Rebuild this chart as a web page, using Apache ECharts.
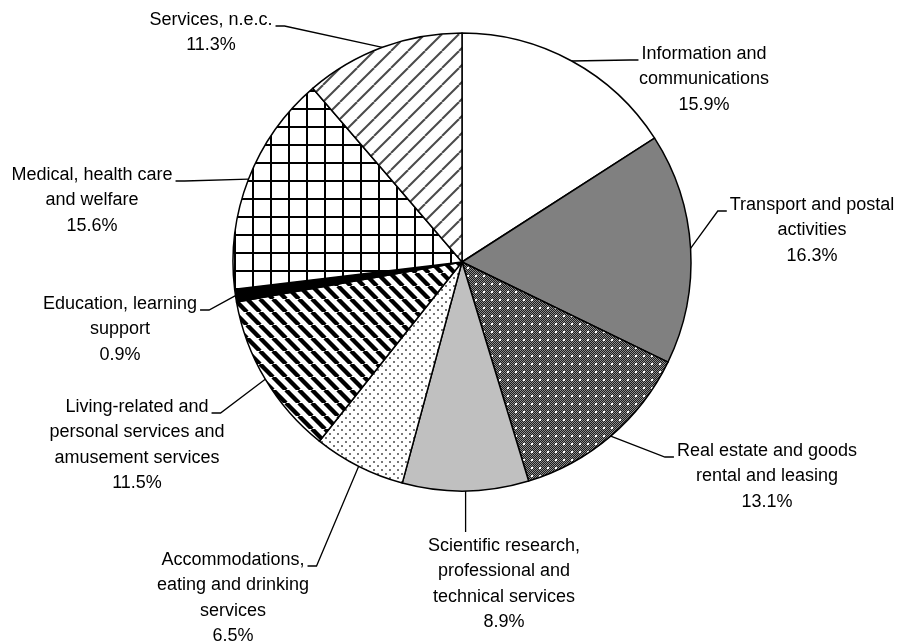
<!DOCTYPE html>
<html>
<head>
<meta charset="utf-8">
<script src="https://cdn.jsdelivr.net/npm/echarts@6/dist/echarts.min.js"></script>
<style>
    html, body { margin: 0; padding: 0; background: #fff; }
    #main { width: 900px; height: 644px; }
</style>
</head>
<body>
<div id="main"></div>
<script>
var categories = [
    'Information and\ncommunications',
    'Transport and postal\nactivities',
    'Real estate and goods\nrental and leasing',
    'Scientific research,\nprofessional and\ntechnical services',
    'Accommodations,\neating and drinking\nservices',
    'Living-related and\npersonal services and\namusement services',
    'Education, learning\nsupport',
    'Medical, health care\nand welfare',
    'Services, n.e.c.'
];
var shares = [15.9, 16.3, 13.1, 8.9, 6.5, 11.5, 0.9, 15.6, 11.3];

// where each label sits: centre x of the text block, centre y of its first line
var labelAt = [[704, 54], [812, 205], [767, 451], [504, 546], [233, 560], [137, 407], [120, 304], [92, 175], [211, 20]];
// which side of the text the leader line comes in from
var labelSide = ['left', 'left', 'left', 'top', 'right', 'right', 'right', 'right', 'right'];

var fontSize = 18, lineH = 25.5;
var pieCenter = [462, 262], pieRadius = 229;

function tile(size, draw) {
    var c = document.createElement('canvas');
    c.width = size; c.height = size;
    draw(c.getContext('2d'), size);
    return { image: c, repeat: 'repeat' };
}

var dotted = tile(8, function (g, s) {
    for (var x = 0; x < s; x++) {
        for (var y = 0; y < s; y++) {
            g.fillStyle = (x + y) % 2 ? '#1c1c1c' : '#8c8c8c';
            g.fillRect(x, y, 1, 1);
        }
    }
    g.fillStyle = '#fff';
    g.fillRect(3, 3, 2, 2);
});
var sparse = tile(8, function (g, s) {
    g.fillStyle = '#fff'; g.fillRect(0, 0, s, s);
    g.fillStyle = '#777';
    g.fillRect(1, 1, 2, 2);
    g.fillRect(5, 5, 2, 2);
});
var stripes = tile(13, function (g, s) {
    g.fillStyle = '#fff'; g.fillRect(0, 0, s, s);
    g.strokeStyle = '#000'; g.lineWidth = 4.4;
    for (var k = -1; k <= 1; k++) {
        g.beginPath(); g.moveTo(k * s, 0); g.lineTo(k * s + s, s); g.stroke();
    }
});
var grid = tile(18, function (g, s) {
    g.fillStyle = '#fff'; g.fillRect(0, 0, s, s);
    g.fillStyle = '#000';
    g.fillRect(0, 0, s, 2);
    g.fillRect(0, 0, 2, s);
});
var hatch = tile(17, function (g, s) {
    g.fillStyle = '#fff'; g.fillRect(0, 0, s, s);
    g.strokeStyle = '#4a4a4a'; g.lineWidth = 2;
    for (var k = -1; k <= 1; k++) {
        g.beginPath(); g.moveTo(k * s, s); g.lineTo(k * s + s, 0); g.stroke();
    }
});
var fills = ['#ffffff', '#808080', dotted, '#c0c0c0', sparse, stripes, '#000000', grid, hatch];

var measure = document.createElement('canvas').getContext('2d');
measure.font = fontSize + 'px "Liberation Sans"';

function arcPoint(i) {
    var total = 0, before = 0;
    for (var j = 0; j < shares.length; j++) {
        total += shares[j];
        if (j < i) before += shares[j];
    }
    var a = (before + shares[i] / 2) / total * Math.PI * 2;
    return [pieCenter[0] + pieRadius * Math.sin(a), pieCenter[1] - pieRadius * Math.cos(a)];
}

var option = {
    animation: false,
    backgroundColor: '#fff',
    series: [
        {
            type: 'pie',
            center: pieCenter,
            radius: pieRadius,
            startAngle: 90,
            clockwise: true,
            avoidLabelOverlap: false,
            emphasis: { disabled: true },
            itemStyle: { borderColor: '#000', borderWidth: 1.5 },
            label: {
                show: true,
                position: 'outside',
                color: '#000',
                fontFamily: 'Liberation Sans',
                fontSize: fontSize,
                lineHeight: lineH,
                formatter: function (p) {
                    return p.name + '\n' + p.value.toFixed(1) + '%';
                }
            },
            labelLine: {
                show: true,
                lineStyle: { color: '#000', width: 1.3 }
            },
            labelLayout: function (p) {
                var i = p.dataIndex;
                var at = labelAt[i];
                var w = measure.measureText(categories[i].split('\n')[0]).width;
                var start = (p.labelLinePoints && p.labelLinePoints[0]) || arcPoint(i);
                var ly = at[1] + 6, pts, ex;
                if (labelSide[i] === 'top') {
                    pts = [start, [start[0], at[1] - 14], [start[0], at[1] - 14]];
                } else if (labelSide[i] === 'left') {
                    ex = at[0] - w / 2 - 3;
                    pts = [start, [ex - 9, ly], [ex, ly]];
                } else {
                    ex = at[0] + w / 2 + 3;
                    pts = [start, [ex + 9, ly], [ex, ly]];
                }
                return {
                    x: at[0],
                    y: at[1] - lineH / 2,
                    align: 'center',
                    verticalAlign: 'top',
                    labelLinePoints: pts
                };
            },
            data: categories.map(function (name, i) {
                return { name: name, value: shares[i], itemStyle: { color: fills[i] } };
            })
        }
    ]
};

echarts.init(document.getElementById('main')).setOption(option);
</script>
</body>
</html>
